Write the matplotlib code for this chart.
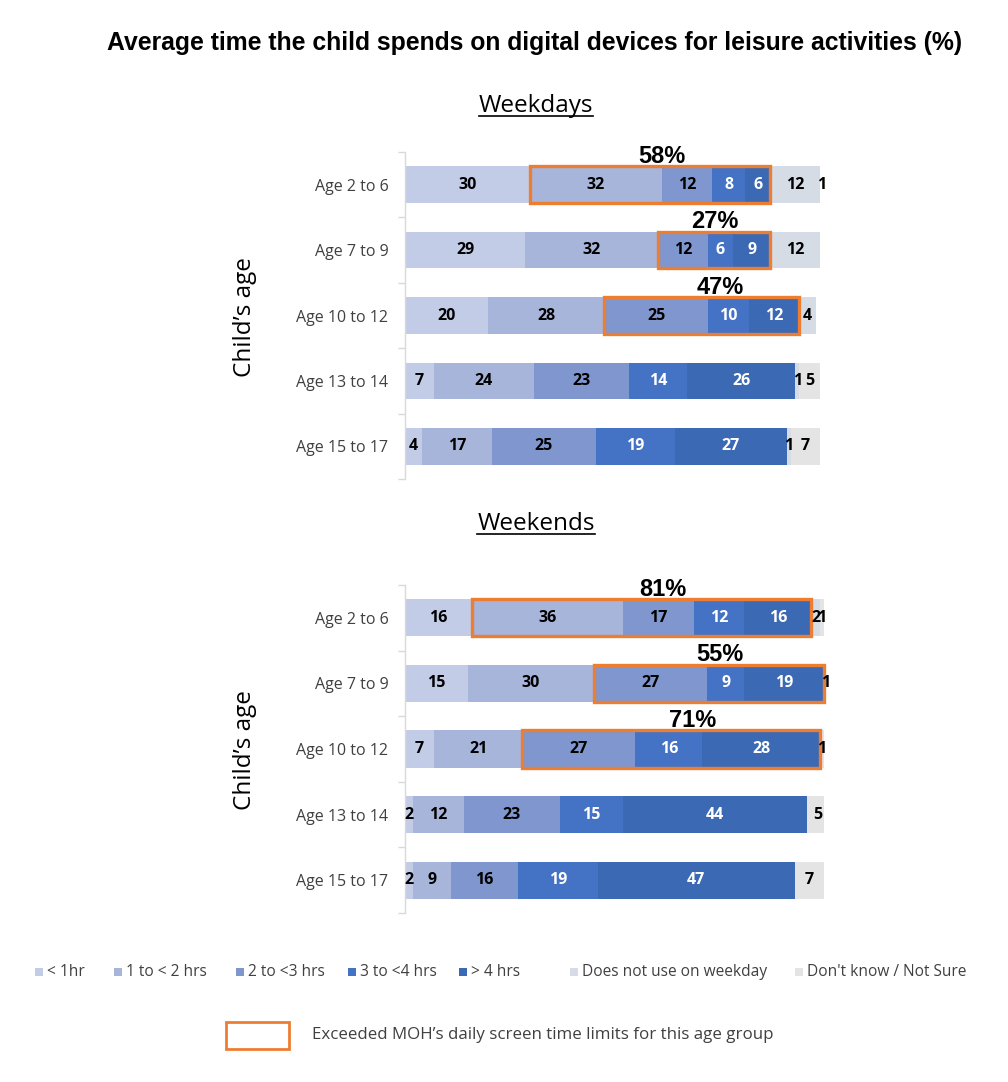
import numpy as np
import matplotlib.pyplot as plt
from matplotlib.patches import Rectangle
from matplotlib.lines import Line2D

plt.rcParams['font.family'] = ['Open Sans', 'DejaVu Sans']

W, H = 1008, 1082

ages = ['Age 2 to 6', 'Age 7 to 9', 'Age 10 to 12', 'Age 13 to 14', 'Age 15 to 17']
categories = ['< 1hr', '1 to < 2 hrs', '2 to <3 hrs', '3 to <4 hrs', '> 4 hrs',
              'Does not use on weekday', "Don't know / Not Sure"]
colors = ['#C3CCE6', '#A8B5DA', '#7F97CE', '#4472C4', '#3C69B3', '#D6DCE5', '#E4E4E4']
text_colors = ['black', 'black', 'black', 'white', 'white', 'black', 'black']

# one row per age group, one value per category
weekdays = [[30, 32, 12, 8, 6, 12, 1],
            [29, 32, 12, 6, 9, 12, 0],
            [20, 28, 25, 10, 12, 4, 0],
            [7, 24, 23, 14, 26, 1, 5],
            [4, 17, 25, 19, 27, 1, 7]]
weekends = [[16, 36, 17, 12, 16, 2, 1],
            [15, 30, 27, 9, 19, 0, 1],
            [7, 21, 27, 16, 28, 0, 1],
            [2, 12, 23, 15, 44, 0, 5],
            [2, 9, 16, 19, 47, 0, 7]]

# first category that counts as exceeding the MOH limit (None = no box)
exceed_from_wd = [1, 2, 2, None, None]
exceed_from_we = [1, 2, 2, None, None]
# where the % labels sit (x, in data units)
pct_x_wd = [62, 74.7, 76]
pct_x_we = [61.6, 75.2, 68.7]

ORANGE = '#ED7D31'


def fx(px):
    return px / W


def fy(py):
    return 1 - py / H


def draw_panel(ax, data, exceed_from, pct_x, bar_h):
    data = np.array(data)
    y = np.arange(len(ages))
    left = np.zeros(len(ages))
    for j, cat in enumerate(categories):
        vals = data[:, j]
        ax.barh(y, vals, left=left, height=bar_h, color=colors[j], edgecolor='none', zorder=2)
        for i in range(len(ages)):
            if vals[i] > 0:
                ax.text(left[i] + vals[i] / 2, y[i], str(vals[i]), ha='center', va='center',
                        fontsize=11.5, fontweight='bold', color=text_colors[j], zorder=5,
                        clip_on=False)
        left = left + vals

    k = 0
    for i, start in enumerate(exceed_from):
        if start is None:
            continue
        x0 = data[i, :start].sum()
        span = data[i, start:5].sum()
        ax.add_patch(Rectangle((x0, y[i] - bar_h / 2), span, bar_h, fill=False,
                               edgecolor=ORANGE, linewidth=2.4, zorder=4, clip_on=False))
        ax.text(pct_x[k], y[i] - bar_h / 2 - 0.15, f'{span}%', ha='center', va='center',
                fontsize=17, fontweight='bold', family='Liberation Sans', zorder=6)
        k += 1

    ax.set_xlim(0, 100)
    ax.set_ylim(len(ages) - 0.5, -0.5)
    ax.set_yticks(y)
    ax.set_yticklabels(ages, fontsize=11.5, color='#404040')
    ax.set_yticks(np.arange(-0.5, len(ages), 1), minor=True)
    ax.tick_params(axis='y', which='major', length=0, pad=12)
    ax.tick_params(axis='y', which='minor', length=5, color='#D9D9D9', width=1)
    ax.set_xticks([])
    for s in ['top', 'right', 'bottom']:
        ax.spines[s].set_visible(False)
    ax.spines['left'].set_color('#D9D9D9')
    ax.spines['left'].set_linewidth(1)


fig = plt.figure(figsize=(W / 100, H / 100), dpi=100)

ax1 = fig.add_axes([fx(405), fy(479), 415 / W, (479 - 152) / H])
ax2 = fig.add_axes([fx(405), fy(913), 419 / W, (913 - 585) / H])
draw_panel(ax1, weekdays, exceed_from_wd, pct_x_wd, 0.56)
draw_panel(ax2, weekends, exceed_from_we, pct_x_we, 0.57)

fig.text(fx(535), fy(43), 'Average time the child spends on digital devices for leisure activities (%)',
         ha='center', va='center', fontsize=17.8, fontweight='bold', family='Liberation Sans')

subtitles = []
for label, py in [('Weekdays', 106), ('Weekends', 524)]:
    t = fig.text(fx(536), fy(py), label, ha='center', va='center', fontsize=17.5)
    subtitles.append(t)

for py in [317, 750]:
    fig.text(fx(245), fy(py), 'Child\u2019s age', ha='center', va='center', rotation=90, fontsize=17.5)

# legend for categories
sq_x = [35, 114, 236, 348, 459, 570, 795]
for j, cat in enumerate(categories):
    fig.add_artist(Rectangle((fx(sq_x[j]), fy(976)), 8 / W, 8 / H, transform=fig.transFigure,
                             facecolor=colors[j], edgecolor='none'))
    fig.text(fx(sq_x[j] + 12), fy(972), cat, ha='left', va='center', fontsize=11.2, color='#404040')

# legend for the orange box
fig.add_artist(Rectangle((fx(226), fy(1049)), 63 / W, 27 / H, transform=fig.transFigure,
                         fill=False, edgecolor=ORANGE, linewidth=2))
fig.text(fx(312), fy(1035), 'Exceeded MOH\u2019s daily screen time limits for this age group',
         ha='left', va='center', fontsize=12.2, color='#404040')

# underline the panel headings
fig.canvas.draw()
r = fig.canvas.get_renderer()
for t in subtitles:
    bb = t.get_window_extent(r)
    fig.add_artist(Line2D([bb.x0 / W, bb.x1 / W], [(bb.y0 + 2) / H] * 2,
                          transform=fig.transFigure, color='black', linewidth=1.2))

fig.savefig('out.png', dpi=100)
